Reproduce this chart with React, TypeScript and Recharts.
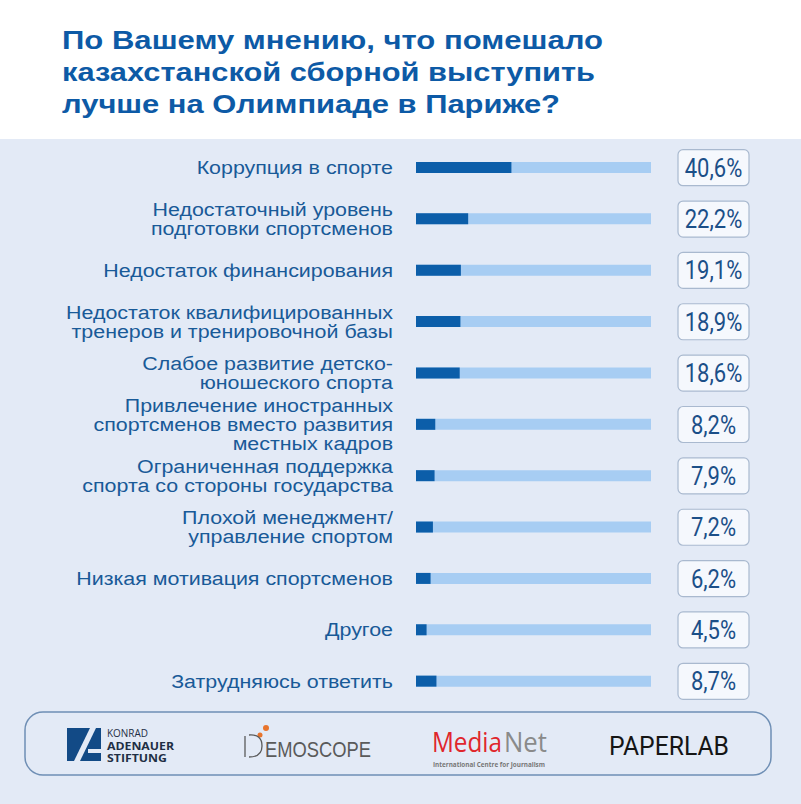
import React from 'react';
import { BarChart, Bar, XAxis, YAxis } from 'recharts';

// survey answers, top to bottom
const reasons = [
  'Коррупция в спорте',
  'Недостаточный уровень\nподготовки спортсменов',
  'Недостаток финансирования',
  'Недостаток квалифицированных\nтренеров и тренировочной базы',
  'Слабое развитие детско-\nюношеского спорта',
  'Привлечение иностранных\nспортсменов вместо развития\nместных кадров',
  'Ограниченная поддержка\nспорта со стороны государства',
  'Плохой менеджмент/\nуправление спортом',
  'Низкая мотивация спортсменов',
  'Другое',
  'Затрудняюсь ответить',
];
const shares = [40.6, 22.2, 19.1, 18.9, 18.6, 8.2, 7.9, 7.2, 6.2, 4.5, 8.7];

const titleLines = [
  'По Вашему мнению, что помешало',
  'казахстанской сборной выступить',
  'лучше на Олимпиаде в Париже?',
];

const data = reasons.map((name, i) => ({ name, share: shares[i] }));

const W = 801;
const H = 804;
const DARK = '#0c5ea9';
const TRACK = '#a7cdf3';
const LABEL = '#195a98';
const BG = '#e3eaf6';

const fmt = (v: number) => v.toFixed(1).replace('.', ',') + '%';

const ReasonTick = (props: any) => {
  const { x, y, payload } = props;
  const lines = String(payload.value).split('\n');
  const lh = 19;
  const top = y - ((lines.length - 1) * lh) / 2 + 6.5;
  return (
    <text x={0} y={0} textAnchor="end" fill={LABEL} fontSize={18}
      fontFamily="'Liberation Sans', Arial, sans-serif"
      transform={`translate(${x} ${top}) scale(1.19 1)`}>
      {lines.map((l, i) => (
        <tspan key={i} x={0} y={i * lh}>{l}</tspan>
      ))}
    </text>
  );
};

const ValueTick = (props: any) => {
  const { x, y, payload } = props;
  const idx = payload.index ?? props.index;
  const v = shares[idx];
  const bw = 71;
  const bh = 36;
  return (
    <g>
      <rect x={x} y={y - bh / 2} width={bw} height={bh} rx={5}
        fill="#f5f8fd" stroke="#a9b9cf" strokeWidth={1.2} />
      <text x={0} y={0} fill="#1b4f88" fontSize={25}
        fontFamily="Roboto, sans-serif" textAnchor="middle"
        transform={`translate(${x + bw / 2} ${y + 9}) scale(0.88 1)`}>
        {fmt(v)}
      </text>
    </g>
  );
};

const Decor = () => (
  <svg width={W} height={H} style={{ position: 'absolute', left: 0, top: 0 }}>
    <rect x={0} y={0} width={W} height={H} fill="#ffffff" />
    <rect x={0} y={139} width={W} height={H - 139} fill={BG} />
    {titleLines.map((t, i) => (
      <text key={i} x={62} y={49 + i * 32} fill="#0d5aa6" fontSize={26}
        fontWeight="bold" fontFamily="'Liberation Sans', Arial, sans-serif"
        textLength={[541, 533, 498][i]} lengthAdjust="spacingAndGlyphs">
        {t}
      </text>
    ))}

    {/* partner strip */}
    <rect x={25} y={712} width={746} height={63} rx={18} fill="none"
      stroke="#6f8fb5" strokeWidth={1.5} />

    {/* KAS */}
    <g fontFamily="'Open Sans', sans-serif" fill="#1f2f45">
      <rect x={67} y={728} width={34} height={33} fill="#124a86" />
      <polygon points="90,728 96,728 80,761 74,761" fill={BG} />
      <rect x={88} y={749} width={13} height={4} fill={BG} />
      <text x={107} y={737} fontSize={10} textLength={41}
        lengthAdjust="spacingAndGlyphs">KONRAD</text>
      <text x={107} y={749.5} fontSize={10} fontWeight="bold" textLength={67}
        lengthAdjust="spacingAndGlyphs">ADENAUER</text>
      <text x={107} y={762} fontSize={10} fontWeight="bold" textLength={60}
        lengthAdjust="spacingAndGlyphs">STIFTUNG</text>
    </g>

    {/* Demoscope */}
    <g>
      <circle cx={266} cy={728} r={3} fill="#e8742c" />
      <circle cx={260} cy={735} r={2.5} fill="#e8742c" />
      <line x1={245} y1={736} x2={245} y2={757} stroke="#5a5a5a" strokeWidth={1.3} />
      <path d="M249 735 Q262 734 262 746 Q262 757 249 757" fill="none"
        stroke="#5a5a5a" strokeWidth={1.3} />
      <text x={265} y={757} fontSize={22} fill="#5a5a5a"
        fontFamily="'Liberation Sans', sans-serif" textLength={106}
        lengthAdjust="spacingAndGlyphs">EMOSCOPE</text>
    </g>

    {/* MediaNet */}
    <g fontFamily="'Open Sans', sans-serif">
      <g transform="translate(432 752) scale(1 1.16)">
        <text x={0} y={0} fontSize={24} fill="#e0262c" textLength={70}
          lengthAdjust="spacingAndGlyphs">Media</text>
      </g>
      <g transform="translate(504 752) scale(1 1.16)">
        <text x={0} y={0} fontSize={24} fill="#8a8a8a" textLength={43}
          lengthAdjust="spacingAndGlyphs">Net</text>
      </g>
      <text x={433} y={767} fontSize={6.5} fill="#777" fontWeight="bold" textLength={112}
        lengthAdjust="spacingAndGlyphs">International Centre for Journalism</text>
    </g>

    {/* PaperLab */}
    <text x={609} y={755} fontSize={25} fontWeight={400} fill="#151515"
      fontFamily="Roboto, sans-serif" textLength={120} lengthAdjust="spacingAndGlyphs">
      PAPERLAB
    </text>
  </svg>
);

export default function App() {
  return (
    <div style={{ position: 'absolute', left: 0, top: 0, width: W, height: H, overflow: 'hidden' }}>
      <Decor />
      <div style={{ position: 'absolute', left: 0, top: 0 }}>
        <BarChart width={W} height={H} data={data} layout="vertical"
          margin={{ top: 142, right: 0, bottom: 97, left: 0 }}>
          <XAxis type="number" domain={[0, 100]} hide />
          <YAxis yAxisId="left" type="category" dataKey="name" width={416}
            axisLine={false} tickLine={false} tickSize={0} tickMargin={23}
            interval={0} tick={<ReasonTick />} />
          <YAxis yAxisId="right" orientation="right" type="category" dataKey="name"
            width={150} axisLine={false} tickLine={false} tickSize={0} tickMargin={27}
            interval={0} tick={<ValueTick />} />
          <Bar yAxisId="left" dataKey="share" barSize={11} fill={DARK}
            background={{ fill: TRACK }} isAnimationActive={false} />
        </BarChart>
      </div>
    </div>
  );
}
